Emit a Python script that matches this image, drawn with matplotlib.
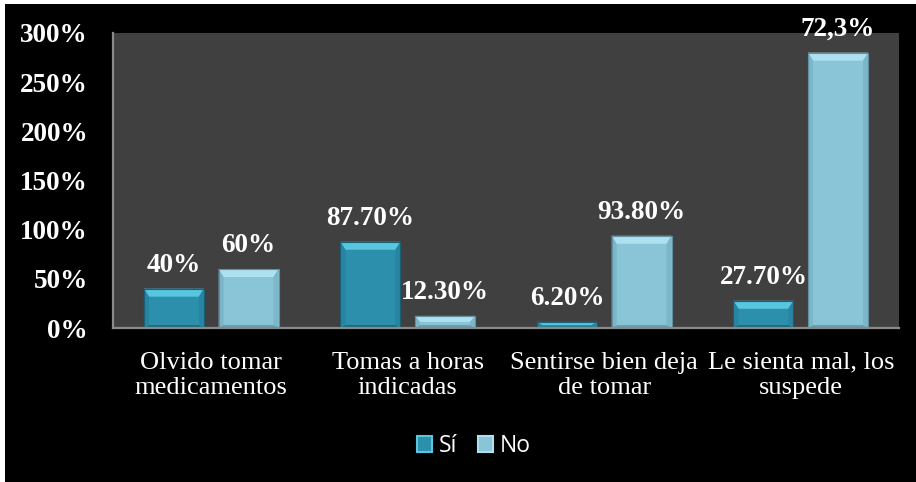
import numpy as np
import matplotlib
matplotlib.use("Agg")
import matplotlib.pyplot as plt
from matplotlib.patches import Polygon, Rectangle, Patch
from matplotlib.ticker import FuncFormatter

categories = ["Olvido tomar\nmedicamentos", "Tomas a horas\nindicadas",
              "Sentirse bien deja\nde tomar", "Le sienta mal, los\nsuspede"]
si_vals = [40, 87.7, 6.2, 27.7]
no_vals = [60, 12.3, 93.8, 280]
si_text = ["40%", "87.70%", "6.20%", "27.70%"]
no_text = ["60%", "12.30%", "93.80%", "72,3%"]
yticks = [0, 50, 100, 150, 200, 250, 300]

SI = dict(face="#2c90ac", top="#58c6df", side="#2784a2", bottom="#1d6a82", edge="#1b5f74")
NO = dict(face="#89c4d7", top="#aee1ef", side="#7cb6c9", bottom="#6a9fb2", edge="#5f8fa0")

W, H = 916, 482
fig = plt.figure(figsize=(W / 100, H / 100), dpi=100, facecolor="white")
fig.patches.append(Rectangle((5 / W, 0), 1, 1 - 4 / H, transform=fig.transFigure,
                             facecolor="black", edgecolor="none", zorder=-10))

ax = fig.add_axes([113 / W, 154 / H, 786 / W, 295 / H])
ax.set_facecolor("#404040")
ax.set_xlim(-0.5, 3.5)
ax.set_ylim(0, 300)

x = np.arange(len(categories))
bw = 0.305
off = 0.19


def bevel_bar(xc, h, c, top_px=8, side_px=5, bot_px=3):
    """bar with a bevelled look, built from polygons in pixel space"""
    t = ax.transData
    (x0, y0), (x1, y1) = t.transform([(xc - bw / 2, 0), (xc + bw / 2, h)])
    tp = min(top_px, (y1 - y0) / 2)
    bp = min(bot_px, (y1 - y0) / 4)
    ix0, ix1 = x0 + side_px, x1 - side_px
    iy0, iy1 = y0 + bp, y1 - tp
    inv = t.inverted()
    pieces = [
        ([(x0, y0), (x1, y0), (x1, y1), (x0, y1)], c["face"]),
        ([(x0, y1), (x1, y1), (ix1, iy1), (ix0, iy1)], c["top"]),
        ([(x0, y0), (ix0, iy0), (ix0, iy1), (x0, y1)], c["side"]),
        ([(x1, y0), (x1, y1), (ix1, iy1), (ix1, iy0)], c["side"]),
        ([(x0, y0), (x1, y0), (ix1, iy0), (ix0, iy0)], c["bottom"]),
    ]
    for pts, col in pieces:
        ax.add_patch(Polygon(inv.transform(pts), closed=True, facecolor=col,
                             edgecolor="none", zorder=3))
    ax.add_patch(Polygon(inv.transform([(x0, y0), (x1, y0), (x1, y1), (x0, y1)]),
                         closed=True, facecolor="none", edgecolor=c["edge"],
                         linewidth=0.8, zorder=4))


lab_font = dict(family="Liberation Serif", weight="bold", size=19.5, color="white")
for i in range(len(categories)):
    for xc, v, txt, c in [(x[i] - off, si_vals[i], si_text[i], SI),
                          (x[i] + off, no_vals[i], no_text[i], NO)]:
        bevel_bar(xc, v, c)
        ax.annotate(txt, (xc, v), xytext=(0, 8), textcoords="offset points",
                    ha="center", va="bottom", zorder=5, annotation_clip=False, **lab_font)

ax.set_yticks(yticks)
ax.yaxis.set_major_formatter(FuncFormatter(lambda v, p: f"{v:.0f}%"))
ax.set_xticks(x)
ax.set_xticklabels(categories, family="Liberation Serif", size=19, color="white",
                   linespacing=1.2)
for lbl in ax.get_yticklabels():
    lbl.set_family("Liberation Serif")
    lbl.set_weight("bold")
    lbl.set_size(19.5)
    lbl.set_color("white")
ax.tick_params(axis="y", length=0, pad=18)
ax.tick_params(axis="x", length=0, pad=17)

for s in ["top", "right"]:
    ax.spines[s].set_visible(False)
for s in ["left", "bottom"]:
    ax.spines[s].set_color("#8a8a8a")
    ax.spines[s].set_linewidth(1.6)
    ax.spines[s].set_zorder(6)

handles = [Patch(facecolor=SI["face"], edgecolor=SI["top"], linewidth=1.5, label="Sí"),
           Patch(facecolor=NO["face"], edgecolor=NO["top"], linewidth=1.5, label="No")]
fig.legend(handles=handles, loc="center", bbox_to_anchor=(474 / W, 1 - 446 / H), ncol=2,
           frameon=False, prop=dict(family="Open Sans", size=16.5), labelcolor="white",
           handlelength=0.65, handleheight=0.65, handletextpad=0.3, columnspacing=0.9)

fig.savefig("out.png", dpi=100, facecolor=fig.get_facecolor())
